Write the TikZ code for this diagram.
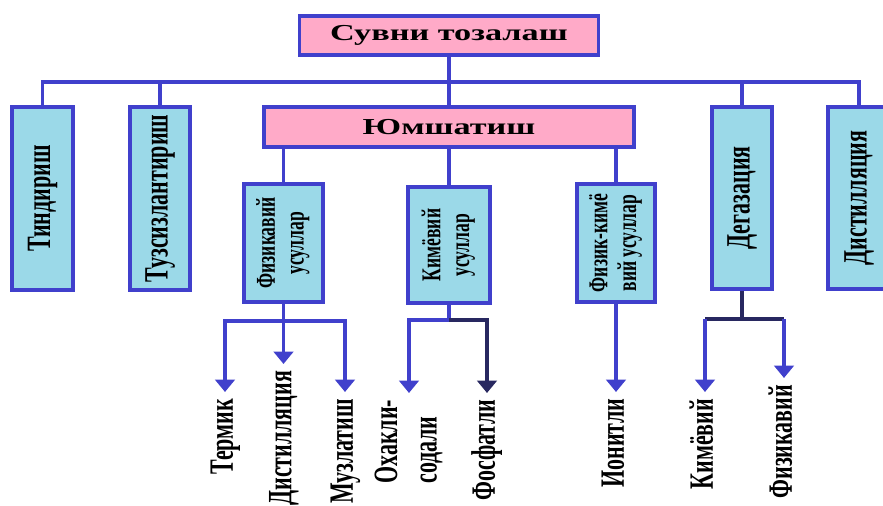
\documentclass[tikz,border=0pt]{standalone}
\usepackage{fontspec}
\setmainfont{Liberation Serif}
\usepackage{graphicx}
\usetikzlibrary{arrows.meta}
\definecolor{LinkBlue}{RGB}{64,64,204}
\definecolor{LinkDark}{RGB}{40,40,96}
\definecolor{HeadPink}{RGB}{255,170,200}
\definecolor{MethodCyan}{RGB}{155,217,232}
\newcommand{\Wide}[1]{\scalebox{1.5}[1]{#1}}
\newcommand{\Up}[1]{\rotatebox{90}{\scalebox{1}[1.55]{\begin{tabular}{@{}c@{}}#1\end{tabular}}}}
\newcommand{\UpL}[1]{\rotatebox{90}{\scalebox{1}[1.55]{\begin{tabular}{@{}l@{}}#1\end{tabular}}}}
\tikzset{
  headbox/.style={draw=LinkBlue, line width=2.2pt, fill=HeadPink, inner sep=0pt,
    font=\fontsize{13}{15}\selectfont\bfseries},
  methodbox/.style={draw=LinkBlue, line width=2.2pt, fill=MethodCyan, inner sep=0pt,
    font=\fontsize{12.5}{14}\selectfont\bfseries},
  subbox/.style={methodbox, font=\fontsize{10}{10.5}\selectfont\bfseries},
  link/.style={draw=LinkBlue, line width=1.8pt},
  darklink/.style={link, draw=LinkDark},
  arr/.style={link, line width=1.9pt, -{Triangle[width=11pt,length=7pt]}},
  leaf/.style={inner sep=0pt, outer sep=4pt, anchor=north,
    font=\fontsize{12.5}{14.5}\selectfont\bfseries}
}
\begin{document}
\begin{tikzpicture}[x=0.02cm, y=-0.02cm]
  \clip (0,0) rectangle (883,506);
  % top level
  \node[headbox, minimum width=59.8mm, minimum height=7.8mm] (c) at (449,35.5) {\Wide{Сувни тозалаш}};
  \node[methodbox, minimum width=12.2mm, minimum height=36.6mm] (t) at (42.5,198.5) {\Up{Тиндириш}};
  \node[methodbox, minimum width=12mm, minimum height=36.6mm] (u) at (160,198.5) {\Up{Тузсизлантириш}};
  \node[headbox, minimum width=74mm, minimum height=8mm] (y) at (449,127) {\Wide{Юмшатиш}};
  \node[methodbox, minimum width=12mm, minimum height=36.4mm] (d) at (742,198) {\Up{Дегазация}};
  \node[methodbox, minimum width=12.4mm, minimum height=36.4mm] (s) at (859,198) {\Up{Дистилляция}};
  \coordinate (bus) at (449,82);
  \draw[link] (t.north) |- (bus) -| (s.north);
  \draw[link] (u.north) -- (u.north |- bus);
  \draw[link] (d.north) -- (d.north |- bus);
  \draw[link] (c.south) -- (y.north);
  % softening methods
  \node[subbox, minimum width=15.8mm, minimum height=23.6mm] (f) at (283.5,243) {\Up{Физикавий\\усуллар}};
  \node[subbox, minimum width=16.4mm, minimum height=23.2mm] (k) at (449,245) {\Up{Кимёвий\\усуллар}};
  \node[subbox, minimum width=15.6mm, minimum height=23.6mm] (fk) at (616,243) {\Up{Физик-кимё\\вий усуллар}};
  \foreach \m in {f,k,fk}
    \draw[link] (y.south -| \m.north) -- (\m.north);
  % leaves
  \node[leaf] (f1) at (225,392) {\Up{Термик}};
  \node[leaf] (f2) at (283.5,364) {\Up{Дистилляция}};
  \node[leaf] (f3) at (345,392) {\Up{Музлатиш}};
  \node[leaf] (k1) at (409,393) {\UpL{Охакли-\\содали}};
  \node[leaf] (k2) at (487,393) {\Up{Фосфатли}};
  \node[leaf] (i1) at (616,392) {\Up{Ионитли}};
  \node[leaf] (d1) at (705,392) {\Up{Кимёвий}};
  \node[leaf] (d2) at (784,378) {\Up{Физикавий}};
  \coordinate (jf) at (283.5,321);
  \coordinate (jk) at (449,320);
  \coordinate (jd) at (742,319);
  \draw[link] (f.south) -- (jf);
  \draw[arr] (jf) -| (f1.north);
  \draw[arr] (jf) -- (f2.north);
  \draw[arr] (jf) -| (f3.north);
  \draw[link] (k.south) -- (jk);
  \draw[arr] (jk) -| (k1.north);
  \draw[arr, draw=LinkDark] (jk) -| (k2.north);
  \draw[arr] (fk.south) -- (i1.north);
  \draw[darklink] (d.south) -- (jd);
  \draw[darklink] (d1.north |- jd) -- (d2.north |- jd);
  \draw[arr] (d1.north |- jd) -- (d1.north);
  \draw[arr] (d2.north |- jd) -- (d2.north);
\end{tikzpicture}
\end{document}
